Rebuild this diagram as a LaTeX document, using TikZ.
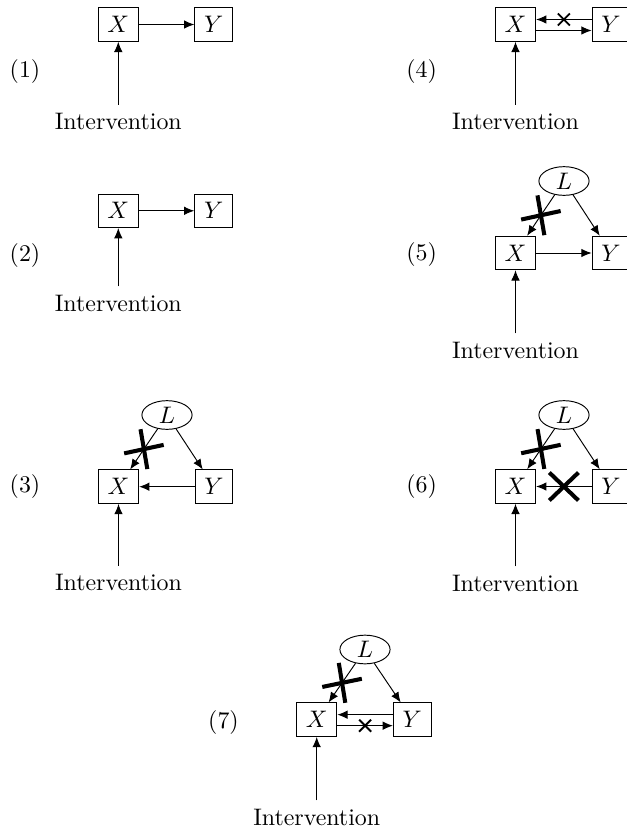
\documentclass[tikz,border=0pt]{standalone}
\usetikzlibrary{shapes.geometric,shapes.misc,arrows.meta}
\begin{document}
\begin{tikzpicture}[x=0.4184pt,y=-0.4184pt,
    var/.style={draw,inner xsep=3.9pt,inner ysep=3.6pt},
    hid/.style={draw,ellipse,minimum width=21pt,minimum height=12pt,inner sep=0pt},
    arr/.style={-{Latex[length=4.3pt,width=3.6pt]}},
    bigx/.style={cross out,draw,sloped,line width=1.7pt,minimum width=10.5pt,minimum height=10pt,inner sep=0pt},
    smallx/.style={cross out,draw,thick,minimum size=4.2pt,inner sep=0pt}]
  \useasboundingbox (0,0) rectangle (626,828);
  % (1)
  \node (lab1) at (25,72) {(1)};
  \node[var] (x1) at (118.3,24.5) {$X$};
  \node[var] (y1) at (213.7,24.5) {$Y$};
  \node (int1) at (118.3,121.7) {Intervention};
  \draw[arr] (x1) -- (y1);
  \draw[arr] (int1) -- (x1);
  % (2)
  \node (lab2) at (25,256) {(2)};
  \node[var] (x2) at (118.3,210.8) {$X$};
  \node[var] (y2) at (213.7,210.8) {$Y$};
  \node (int2) at (118.3,303) {Intervention};
  \draw[arr] (x2) -- (y2);
  \draw[arr] (int2) -- (x2);
  % (3)
  \node (lab3) at (25,487) {(3)};
  \node[hid] (l3) at (167,415) {$L$};
  \node[var] (x3) at (118.5,486.7) {$X$};
  \node[var] (y3) at (214,486.7) {$Y$};
  \node (int3) at (118.5,582.7) {Intervention};
  \draw[arr] (l3) -- node[bigx]{} (x3);
  \draw[arr] (l3) -- (y3);
  \draw[arr] (y3) -- (x3);
  \draw[arr] (int3) -- (x3);
  % (4)
  \node (lab4) at (421.7,72) {(4)};
  \node[var] (x4) at (515.5,24.5) {$X$};
  \node[var] (y4) at (611,24.5) {$Y$};
  \node (int4) at (515.5,121.7) {Intervention};
  \draw[arr] ([yshift=2.1pt]y4.west) -- node[smallx]{} ([yshift=2.1pt]x4.east);
  \draw[arr] ([yshift=-2.5pt]x4.east) -- ([yshift=-2.5pt]y4.west);
  \draw[arr] (int4) -- (x4);
  % (5)
  \node (lab5) at (421.7,255) {(5)};
  \node[hid] (l5) at (564,181) {$L$};
  \node[var] (x5) at (515.5,253) {$X$};
  \node[var] (y5) at (611,253) {$Y$};
  \node (int5) at (515.5,350) {Intervention};
  \draw[arr] (l5) -- node[bigx]{} (x5);
  \draw[arr] (l5) -- (y5);
  \draw[arr] (x5) -- (y5);
  \draw[arr] (int5) -- (x5);
  % (6)
  \node (lab6) at (421.7,487) {(6)};
  \node[hid] (l6) at (564,415) {$L$};
  \node[var] (x6) at (515.5,486.5) {$X$};
  \node[var] (y6) at (611,486.5) {$Y$};
  \node (int6) at (515.5,583) {Intervention};
  \draw[arr] (l6) -- node[bigx]{} (x6);
  \draw[arr] (l6) -- (y6);
  \draw[arr] (y6) -- node[bigx]{} (x6);
  \draw[arr] (int6) -- (x6);
  % (7)
  \node (lab7) at (223.5,723) {(7)};
  \node[hid] (l7) at (365,649.5) {$L$};
  \node[var] (x7) at (316.7,719.7) {$X$};
  \node[var] (y7) at (412.3,719.7) {$Y$};
  \node (int7) at (316.7,817) {Intervention};
  \draw[arr] (l7) -- node[bigx]{} (x7);
  \draw[arr] (l7) -- (y7);
  \draw[arr] ([yshift=2.1pt]y7.west) -- ([yshift=2.1pt]x7.east);
  \draw[arr] ([yshift=-2.5pt]x7.east) -- node[smallx]{} ([yshift=-2.5pt]y7.west);
  \draw[arr] (int7) -- (x7);
\end{tikzpicture}
\end{document}
